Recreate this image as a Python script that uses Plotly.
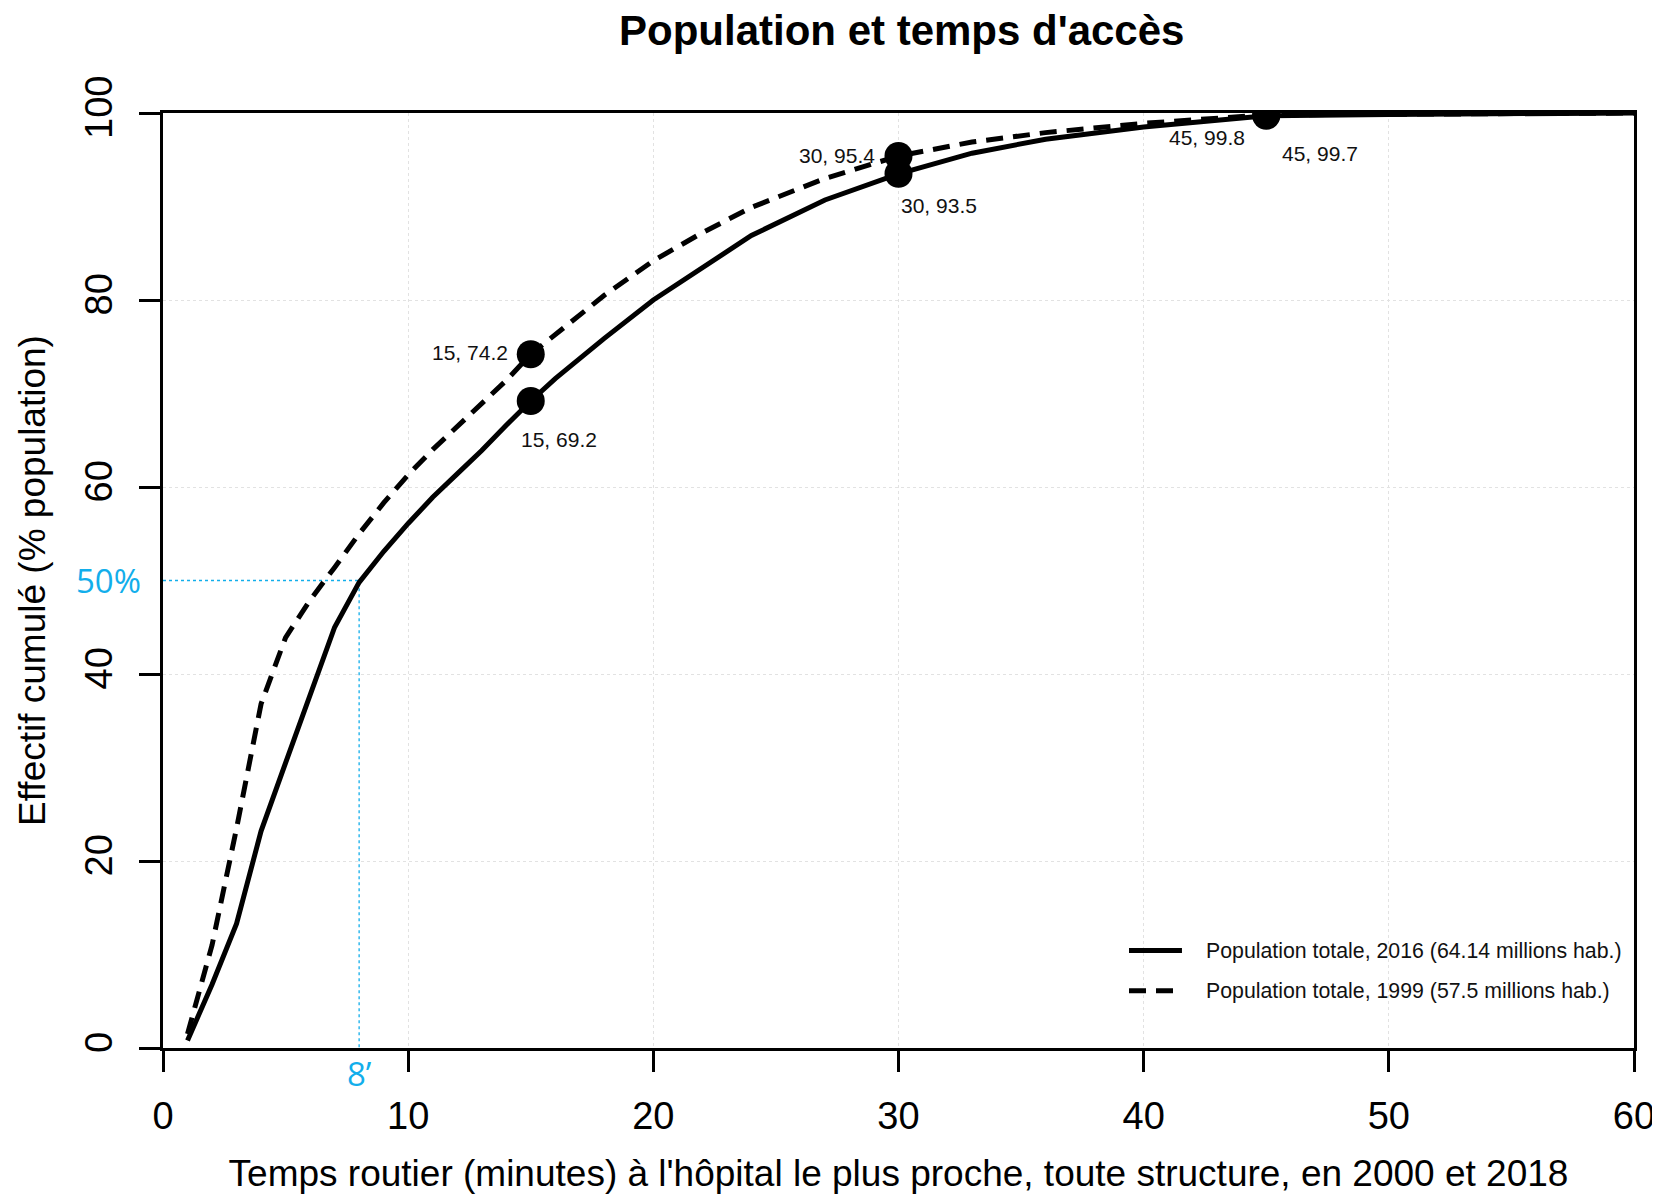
import plotly.graph_objects as go

# ---- data ----
minutes_2016 = [1, 2, 3, 4, 5, 6, 7, 8, 9, 10, 11, 12, 13, 14, 15, 16, 18, 20, 22, 24, 27, 30, 33, 36, 40, 45, 50, 55, 60]
pct_2016 = [0.8, 6.8, 13.3, 23.2, 30.5, 37.7, 45.0, 49.8, 53.1, 56.1, 58.9, 61.4, 63.9, 66.6, 69.2, 71.6, 75.9, 80.0, 83.5,
            86.9, 90.7, 93.5, 95.7, 97.2, 98.5, 99.7, 99.85, 99.95, 100.0]

minutes_1999 = [1, 2, 3, 4, 5, 6, 7, 8, 9, 10, 11, 12, 13, 14, 15, 16, 18, 20, 22, 24, 27, 30, 33, 36, 40, 45, 50, 55, 60]
pct_1999 = [1.5, 11.0, 23.5, 36.8, 43.9, 47.9, 51.4, 55.0, 58.3, 61.3, 64.0, 66.5, 68.9, 71.4, 74.2, 76.3, 80.5, 84.2, 87.2,
            89.9, 93.0, 95.4, 96.9, 97.9, 98.9, 99.8, 99.9, 99.95, 100.0]

marker_minutes = [15, 30, 45]
marker_2016 = [69.2, 93.5, 99.7]
marker_1999 = [74.2, 95.4, 99.8]

median_minutes = 8
median_pct = 50

x_ticks = [0, 10, 20, 30, 40, 50, 60]
y_ticks = [0, 20, 40, 60, 80, 100]

name_2016 = "Population totale, 2016 (64.14 millions hab.)"
name_1999 = "Population totale, 1999 (57.5 millions hab.)"

BLUE = "#12AEEB"
FONT = "Liberation Sans, Arial, sans-serif"
DASH = "17px,10px"

# the page body has an 8px margin, so the figure fills the rest of the 1660x1194 window
FIG_W, FIG_H = 1652, 1186

fig = go.Figure()

# median guide (dotted blue)
fig.add_trace(go.Scatter(
    x=[0, median_minutes, median_minutes], y=[median_pct, median_pct, 0],
    mode="lines", line=dict(color=BLUE, width=1.3, dash="dot"),
    showlegend=False, hoverinfo="skip"))

fig.add_trace(go.Scatter(
    x=minutes_2016, y=pct_2016, mode="lines", name=name_2016,
    line=dict(color="black", width=5), showlegend=False))
fig.add_trace(go.Scatter(
    x=minutes_1999, y=pct_1999, mode="lines", name=name_1999,
    line=dict(color="black", width=5, dash=DASH), showlegend=False))

fig.add_trace(go.Scatter(
    x=marker_minutes, y=marker_1999, mode="markers",
    marker=dict(color="black", size=28), showlegend=False))
fig.add_trace(go.Scatter(
    x=marker_minutes, y=marker_2016, mode="markers",
    marker=dict(color="black", size=28), showlegend=False))

# point labels
lab_1999 = [dict(xanchor="right", xshift=-21, yshift=2),
            dict(xanchor="right", xshift=-22, yshift=1),
            dict(xanchor="right", xshift=-19, yshift=-23)]
lab_2016 = [dict(xanchor="left", xshift=-12, yshift=-39),
            dict(xanchor="left", xshift=0, yshift=-32),
            dict(xanchor="left", xshift=14, yshift=-38)]
for xs, ys, offs in ((marker_minutes, marker_1999, lab_1999), (marker_minutes, marker_2016, lab_2016)):
    for xv, yv, o in zip(xs, ys, offs):
        fig.add_annotation(x=xv, y=yv, text=f"{xv}, {yv}", showarrow=False,
                           font=dict(family=FONT, size=21, color="#111111"),
                           yanchor="middle", **o)

# blue labels
fig.add_annotation(x=0, y=median_pct, text=f"{median_pct}%", showarrow=False,
                   xanchor="right", yanchor="middle", xshift=-20,
                   font=dict(family="Open Sans, sans-serif", size=33, color=BLUE))
fig.add_annotation(x=median_minutes, y=0, text=f"{median_minutes}\u2019", showarrow=False,
                   xanchor="center", yanchor="middle", yshift=-25,
                   font=dict(family="Open Sans, sans-serif", size=33, color=BLUE))

# legend (drawn like R's legend: sample line, gap, text)
legend_rows = [(name_2016, "solid", 0.1042), (name_1999, DASH, 0.0611)]
for label, dash, yy in legend_rows:
    fig.add_shape(type="line", xref="x domain", yref="y domain",
                  x0=0.6567, x1=0.6927, y0=yy, y1=yy,
                  line=dict(color="black", width=5, dash=dash))
    fig.add_annotation(xref="x domain", yref="y domain", x=0.708, y=yy, text=label,
                       showarrow=False, xanchor="left", yanchor="middle",
                       font=dict(family=FONT, size=21.3, color="#111111"))

fig.update_layout(
    width=FIG_W, height=FIG_H,
    margin=dict(l=155, r=26, t=105, b=146, autoexpand=False),
    paper_bgcolor="white", plot_bgcolor="white",
    font=dict(family=FONT, color="black"),
    title=dict(text="<b>Population et temps d'accès</b>", x=0.541, xanchor="center",
               y=1 - 22 / FIG_H, yanchor="middle",
               font=dict(family=FONT, size=42, color="black")),
    showlegend=False,
)

fig.update_xaxes(
    range=[0, 60], tickvals=x_ticks, ticks="outside", ticklen=21, tickwidth=2.5,
    tickcolor="black", showline=True, linecolor="black", linewidth=2.5, mirror=True,
    showgrid=True, gridcolor="#e2e2e2", gridwidth=1, griddash="dot", zeroline=False,
    tickfont=dict(family=FONT, size=38, color="black"), ticklabelstandoff=12,
    automargin=False,
    title=dict(text="Temps routier (minutes) à l'hôpital le plus proche, toute structure, en 2000 et 2018",
               font=dict(family=FONT, size=37, color="black"), standoff=26),
)
fig.update_yaxes(
    range=[0, 100], tickvals=y_ticks, ticks="outside", ticklen=21, tickwidth=2.5,
    tickcolor="black", showline=True, linecolor="black", linewidth=2.5, mirror=True,
    showgrid=True, gridcolor="#e2e2e2", gridwidth=1, griddash="dot", zeroline=False,
    tickangle=-90, tickfont=dict(family=FONT, size=38, color="black"), ticklabelstandoff=12,
    automargin=False,
    title=dict(text="Effectif cumulé (% population)",
               font=dict(family=FONT, size=37, color="black"), standoff=22),
)

fig.write_html("out.html")
